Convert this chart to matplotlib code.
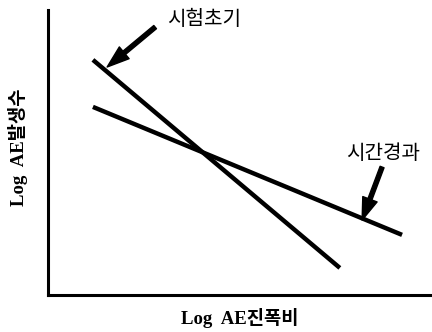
import matplotlib.pyplot as plt
import numpy as np

# two straight lines in log-log space (arbitrary units)
early_x = [1.17, 7.60]
early_y = [8.25, 0.95]
later_x = [1.17, 9.22]
later_y = [6.60, 2.11]

labels = ['시험초기', '시간경과']
# arrow tail -> head, and label anchor
arrow_tail = [(2.79, 9.40), (8.70, 4.49)]
arrow_head = [(1.54, 8.00), (8.18, 2.63)]
text_pos = [(3.10, 9.65), (7.75, 4.98)]

xlabel = 'Log  AE진폭비'
ylabel = 'Log  AE발생수'

fig = plt.figure(figsize=(4.32, 3.32), dpi=100)
ax = fig.add_axes([48 / 432, 37 / 332, 384 / 432, 285 / 332])

ax.plot(early_x, early_y, color='black', lw=3.2, solid_capstyle='butt')
ax.plot(later_x, later_y, color='black', lw=3.2, solid_capstyle='butt')

for lab, tail, head, pos in zip(labels, arrow_tail, arrow_head, text_pos):
    ax.annotate('', xy=head, xytext=tail,
                arrowprops=dict(facecolor='black', edgecolor='black',
                                width=3, headwidth=11, headlength=16, shrink=0))
    ax.text(pos[0], pos[1], lab, fontsize=14.5, va='center', ha='left',
            family=['Noto Sans CJK KR', 'DejaVu Sans'])

ax.set_xlim(0, 10)
ax.set_ylim(0, 10)
ax.set_xticks([])
ax.set_yticks([])
for s in ['top', 'right']:
    ax.spines[s].set_visible(False)
for s in ['left', 'bottom']:
    ax.spines[s].set_linewidth(2.2)

fam = ['Liberation Serif', 'Noto Sans CJK KR']
ax.set_xlabel(xlabel, fontsize=13.5, fontweight='bold', family=fam, labelpad=9)
ax.set_ylabel(ylabel, fontsize=13.5, fontweight='bold', family=fam)
ax.yaxis.set_label_coords(-0.052, 0.52)

fig.savefig('out.png', dpi=100)
